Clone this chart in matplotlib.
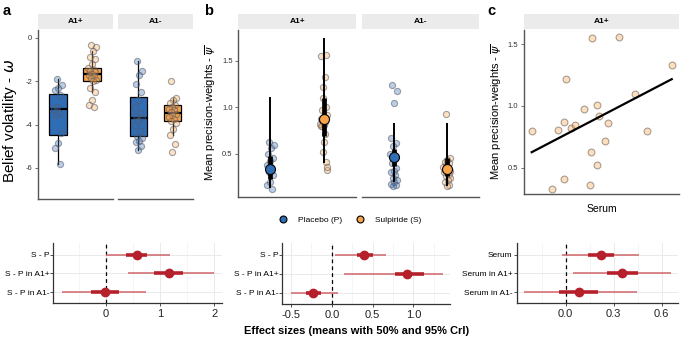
import numpy as np
import matplotlib
matplotlib.use("Agg")
import matplotlib.pyplot as plt
from matplotlib.lines import Line2D
from matplotlib.ticker import AutoMinorLocator

plt.rcParams['font.family'] = ['Liberation Sans', 'DejaVu Sans']
plt.rcParams['axes.unicode_minus'] = False
plt.rcParams['mathtext.fontset'] = 'dejavusans'

# ---------------- data ----------------
genotypes = ["A1+", "A1-"]
drugs = ["Placebo (P)", "Sulpiride (S)"]

# panel a: belief volatility (omega), individual values
omega_pla_a1p = [-1.9, -2.2, -2.3, -2.4, -2.65, -3.2, -3.3, -3.45, -3.55, -4.4, -4.85, -5.1, -5.8]
omega_sul_a1p = [-0.35, -0.45, -0.6, -0.9, -1.0, -1.2, -1.4, -1.5, -1.55, -1.6, -1.65,
                 -1.7, -1.75, -1.85, -1.95, -2.0, -2.3, -2.5, -2.85, -3.1, -3.2]
omega_pla_a1m = [-1.05, -1.55, -1.7, -2.15, -2.5, -2.85, -3.2, -3.45, -3.6, -3.7, -3.85,
                 -4.0, -4.3, -4.55, -4.6, -4.75, -4.8, -5.0, -5.15]
omega_sul_a1m = [-2.0, -2.8, -2.85, -3.0, -3.1, -3.2, -3.3, -3.35, -3.4, -3.5, -3.55,
                 -3.65, -3.75, -3.85, -3.95, -4.2, -4.5, -4.9, -5.25]
# box statistics: lower whisker, Q1, median, Q3, upper whisker
box_pla_a1p = [-5.8, -4.5, -3.3, -2.6, -1.9]
box_sul_a1p = [-2.5, -2.0, -1.65, -1.4, -0.6]
box_pla_a1m = [-5.15, -4.55, -3.7, -2.75, -1.05]
box_sul_a1m = [-4.5, -3.85, -3.45, -3.1, -2.8]

# panel b: mean precision weights, individual values
psi_pla_a1p = [0.63, 0.60, 0.56, 0.50, 0.45, 0.42, 0.38, 0.35, 0.30, 0.27, 0.20, 0.16, 0.12]
psi_sul_a1p = [0.797, 0.33, 0.808, 0.87, 0.41, 1.22, 0.82, 0.846, 0.976, 0.36, 0.63,
               1.55, 1.005, 0.52, 0.919, 0.716, 0.865, 1.557, 1.10, 0.797, 1.33]
psi_pla_a1m = [1.24, 1.18, 1.05, 0.67, 0.62, 0.58, 0.50, 0.45, 0.40, 0.35, 0.32, 0.30,
               0.27, 0.24, 0.22, 0.20, 0.18, 0.16, 0.15]
psi_sul_a1m = [0.93, 0.45, 0.43, 0.41, 0.40, 0.38, 0.36, 0.35, 0.33, 0.32, 0.31, 0.30,
               0.28, 0.26, 0.24, 0.22, 0.20, 0.17, 0.15]
# model estimates (order: P A1+, S A1+, P A1-, S A1-)
psi_mean = [0.335, 0.875, 0.465, 0.335]
psi_lo95 = [0.13, 0.40, 0.20, 0.15]
psi_hi95 = [1.11, 1.75, 0.83, 0.83]
psi_lo50 = [0.23, 0.69, 0.37, 0.26]
psi_hi50 = [0.48, 1.10, 0.55, 0.45]

# panel c: serum level (arbitrary units) vs precision weights (sulpiride, A1+)
serum = [100, 144, 157, 169, 170, 174, 185, 193, 213, 224, 227, 229, 240, 240, 245,
         256, 264, 286, 321, 346, 400]
psi_serum = psi_sul_a1p

# effect sizes (means with 50% and 95% CrI)
eff_labels_ab = ["S - P", "S - P in A1+", "S - P in A1-"]
eff_labels_c = ["Serum", "Serum in A1+", "Serum in A1-"]
eff_a_mean = [0.57, 1.165, -0.01]
eff_a_lo95 = [0.005, 0.42, -0.81]
eff_a_hi95 = [1.18, 2.0, 0.74]
eff_a_lo50 = [0.37, 0.89, -0.27]
eff_a_hi50 = [0.77, 1.43, 0.245]
eff_b_mean = [0.396, 0.917, -0.225]
eff_b_lo95 = [0.04, 0.15, -0.5]
eff_b_hi95 = [0.67, 1.37, 0.08]
eff_b_lo50 = [0.31, 0.78, -0.32]
eff_b_hi50 = [0.50, 1.125, -0.127]
eff_c_mean = [0.219, 0.354, 0.083]
eff_c_lo95 = [-0.02, 0.048, -0.26]
eff_c_hi95 = [0.458, 0.66, 0.444]
eff_c_lo50 = [0.141, 0.256, -0.04]
eff_c_hi50 = [0.30, 0.454, 0.204]

# ---------------- style ----------------
BLUE = "#2F6DB5"
ORANGE = "#F7A44A"
RED = "#B5202A"
RED_THIN = "#D0666B"
SPINE = "#333333"
STRIP = "#EBEBEB"

W, H = 685, 338
fig = plt.figure(figsize=(W / 100, H / 100), dpi=100)


def px_axes(x0, y0, x1, y1, **kw):
    return fig.add_axes([x0 / W, 1 - y1 / H, (x1 - x0) / W, (y1 - y0) / H], **kw)


def strip(x0, x1, label):
    s = px_axes(x0, 14, x1, 29)
    s.set_facecolor(STRIP)
    for sp in s.spines.values():
        sp.set_visible(False)
    s.set_xticks([])
    s.set_yticks([])
    s.text(0.5, 0.5, label, ha='center', va='center', fontsize=6, fontweight='bold',
           transform=s.transAxes)


def jitter(n, width):
    k = np.arange(n)
    return width * (((k * 0.618034 + 0.31) % 1.0) - 0.5) * 2


def style_top(ax, left=True):
    ax.set_xlim(0.4, 2.6)
    ax.set_xticks([])
    ax.spines['top'].set_visible(False)
    ax.spines['right'].set_visible(False)
    ax.spines['bottom'].set_color('#555555')
    ax.spines['bottom'].set_linewidth(1.0)
    if left:
        ax.spines['left'].set_color('#555555')
        ax.spines['left'].set_linewidth(1.0)
        ax.tick_params(axis='y', labelsize=5.5, length=2.5, width=0.6, color='#555555',
                       pad=1.5, labelcolor='#333333')
    else:
        ax.spines['left'].set_visible(False)
        ax.set_yticks([])


def pt_colors(c):
    return dict(facecolor=matplotlib.colors.to_rgba(c, 0.33),
                edgecolor=(0.35, 0.35, 0.4, 0.55))


# ---------------- panel a ----------------
ax_a = [px_axes(37.5, 30, 113, 199), px_axes(118, 30, 193, 199)]
a_data = [(omega_pla_a1p, omega_sul_a1p, box_pla_a1p, box_sul_a1p),
          (omega_pla_a1m, omega_sul_a1m, box_pla_a1m, box_sul_a1m)]
for i, ax in enumerate(ax_a):
    pla, sul, bp, bs = a_data[i]
    stats = []
    for b in (bp, bs):
        stats.append(dict(whislo=b[0], q1=b[1], med=b[2], q3=b[3], whishi=b[4], fliers=[]))
    bx = ax.bxp(stats, positions=[1, 2], widths=0.52, patch_artist=True, showcaps=False,
                showfliers=False,
                medianprops=dict(color='black', lw=1.6),
                whiskerprops=dict(color='black', lw=0.9),
                boxprops=dict(edgecolor='black', lw=0.9))
    bx['boxes'][0].set_facecolor(BLUE)
    bx['boxes'][1].set_facecolor(ORANGE)
    for j, (vals, col) in enumerate(((pla, BLUE), (sul, ORANGE))):
        v = np.array(vals)
        ax.scatter(j + 1 + jitter(len(v), 0.12), v, s=20, lw=0.8, zorder=4, **pt_colors(col))
    ax.set_ylim(-7.43, 0.355)
    ax.set_yticks([0, -2, -4, -6])
    style_top(ax, left=(i == 0))
    strip(37.5 if i == 0 else 118, 113 if i == 0 else 193, genotypes[i])

fig.text(10 / W, 1 - 121 / H, r"Belief volatility - $\omega$", rotation=90, ha='center',
         va='center', fontsize=11)

# ---------------- panel b ----------------
ax_b = [px_axes(238.3, 30, 356, 196.7), px_axes(361.7, 30, 479, 196.7)]
b_data = [(psi_pla_a1p, psi_sul_a1p), (psi_pla_a1m, psi_sul_a1m)]
for i, ax in enumerate(ax_b):
    for j, (vals, col) in enumerate(zip(b_data[i], (BLUE, ORANGE))):
        v = np.array(vals)
        ax.scatter(j + 1 + jitter(len(v), 0.07), v, s=20, lw=0.8, zorder=2, **pt_colors(col))
        k = 2 * i + j
        ax.plot([j + 1, j + 1], [psi_lo95[k], psi_hi95[k]], color='black', lw=1.4,
                solid_capstyle='butt', zorder=3)
        ax.plot([j + 1, j + 1], [psi_lo50[k], psi_hi50[k]], color='black', lw=3.4,
                solid_capstyle='butt', zorder=3)
        ax.plot([j + 1], [psi_mean[k]], 'o', ms=7.2, mfc=col, mec='black', mew=0.8, zorder=4)
    ax.set_ylim(0.039, 1.831)
    ax.set_yticks([0.5, 1.0, 1.5])
    style_top(ax, left=(i == 0))
    strip(238.3 if i == 0 else 361.7, 356 if i == 0 else 479, genotypes[i])

fig.text(211 / W, 1 - 113 / H, r"Mean precision-weights - $\overline{\psi}$", rotation=90,
         ha='center', va='center', fontsize=8)

handles = [Line2D([], [], marker='o', ls='', ms=5, mfc=BLUE, mec='black', mew=0.8),
           Line2D([], [], marker='o', ls='', ms=5, mfc=ORANGE, mec='black', mew=0.8)]
fig.legend(handles, drugs, loc='center', bbox_to_anchor=(348 / W, 1 - 220 / H), ncol=2,
           frameon=False, fontsize=6, handlelength=2, handletextpad=0.8,
           columnspacing=1.1, borderpad=0)

# ---------------- panel c ----------------
ax_c = px_axes(524, 30, 679, 194.3)
xs = np.array(serum, dtype=float)
ys = np.array(psi_serum)
ax_c.scatter(xs, ys, s=24, lw=0.8, zorder=3, facecolor=matplotlib.colors.to_rgba(ORANGE, 0.35),
             edgecolor=(0.45, 0.4, 0.35, 0.6))
coef = np.polyfit(xs, ys, 1)
xl = np.array([xs.min(), xs.max()])
ax_c.plot(xl, np.polyval(coef, xl), color='black', lw=1.6, zorder=4)
ax_c.set_xlim(83.5, 415.6)
ax_c.set_ylim(0.284, 1.616)
ax_c.set_yticks([0.5, 1.0, 1.5])
ax_c.set_xticks([])
for side in ('top', 'right'):
    ax_c.spines[side].set_visible(False)
for side in ('left', 'bottom'):
    ax_c.spines[side].set_color('#555555')
    ax_c.spines[side].set_linewidth(1.0)
ax_c.tick_params(axis='y', labelsize=5.5, length=2.5, width=0.6, color='#555555', pad=1.5,
                 labelcolor='#333333')
strip(524, 679, "A1+")
fig.text(601.5 / W, 1 - 209 / H, "Serum", ha='center', va='center', fontsize=7.5)
fig.text(497 / W, 1 - 112 / H, r"Mean precision-weights - $\overline{\psi}$", rotation=90,
         ha='center', va='center', fontsize=8)

# ---------------- forest plots ----------------
def forest(ax, labels, mean, lo95, hi95, lo50, hi50, xlim, xticks, xticklabels):
    y = np.array([3, 2, 1])
    ax.set_axisbelow(True)
    ax.set_xlim(*xlim)
    ax.set_ylim(0.4, 3.6)
    ax.set_xticks(xticks)
    ax.set_xticklabels(xticklabels)
    ax.xaxis.set_minor_locator(AutoMinorLocator(2))
    ax.set_yticks(y)
    ax.set_yticklabels(labels)
    ax.grid(True, which='major', color='#E6E6E6', lw=0.6)
    ax.grid(True, which='minor', axis='x', color='#F2F2F2', lw=0.5)
    ax.axvline(0, color='black', lw=0.9, ls=(0, (3, 2.5)), zorder=2)
    ax.hlines(y, lo95, hi95, color=RED_THIN, lw=1.1, zorder=3)
    ax.hlines(y, lo50, hi50, color=RED, lw=2.6, zorder=4)
    ax.plot(mean, y, 'o', ms=6, color=RED, zorder=5)
    for side in ('top', 'right'):
        ax.spines[side].set_visible(False)
    for side in ('left', 'bottom'):
        ax.spines[side].set_color(SPINE)
        ax.spines[side].set_linewidth(0.9)
    ax.tick_params(axis='y', which='major', labelsize=6, length=2, width=0.6, pad=1,
                   color=SPINE)
    ax.tick_params(axis='x', which='major', labelsize=8, length=2.5, width=0.6, pad=1.5,
                   color=SPINE, labelcolor='#222222')
    ax.tick_params(axis='x', which='minor', length=0)


fa = px_axes(53.3, 243.3, 221.7, 303.3)
forest(fa, eff_labels_ab, eff_a_mean, eff_a_lo95, eff_a_hi95, eff_a_lo50, eff_a_hi50,
       (-0.965, 2.14), [0, 1, 2], ["0", "1", "2"])
fb = px_axes(282.3, 243.3, 450, 304.3)
forest(fb, eff_labels_ab, eff_b_mean, eff_b_lo95, eff_b_hi95, eff_b_lo50, eff_b_hi50,
       (-0.607, 1.45), [-0.5, 0, 0.5, 1.0], ["-0.5", "0.0", "0.5", "1.0"])
fc = px_axes(516.7, 243.3, 677.7, 303.3)
forest(fc, eff_labels_c, eff_c_mean, eff_c_lo95, eff_c_hi95, eff_c_lo50, eff_c_hi50,
       (-0.306, 0.7), [0, 0.3, 0.6], ["0.0", "0.3", "0.6"])

fig.text(357 / W, 1 - 331 / H, "Effect sizes (means with 50% and 95% CrI)", ha='center',
         va='center', fontsize=8, fontweight='bold')

# panel letters
for x, lab in ((3, "a"), (204, "b"), (487, "c")):
    fig.text(x / W, 1 - 4 / H, lab, ha='left', va='top', fontsize=10.5, fontweight='bold')

fig.savefig("out.png", dpi=100)
